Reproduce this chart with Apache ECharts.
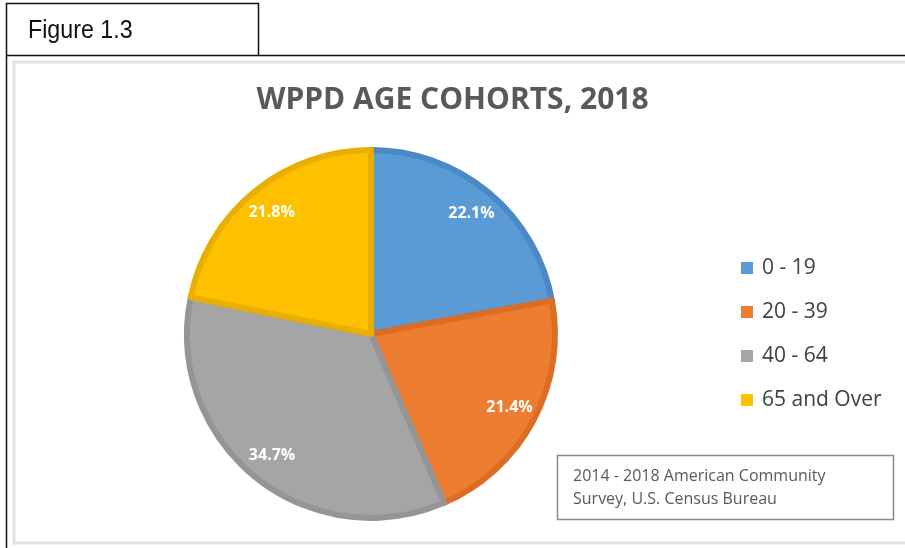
<!DOCTYPE html>
<html>
<head>
<meta charset="utf-8">
<script src="https://cdn.jsdelivr.net/npm/echarts@6/dist/echarts.min.js"></script>
<style>
html,body{margin:0;padding:0;background:#fff;}
#chart{width:905px;height:548px;}
</style>
</head>
<body>
<div id="chart"></div>
<script>
var categories = ['0 - 19', '20 - 39', '40 - 64', '65 and Over'];
var shares = [22.1, 21.4, 34.7, 21.8];
var fillColors = ['#5B9BD5', '#ED7D31', '#A5A5A5', '#FFC000'];
var edgeColors = ['#4B88C6', '#DB6E24', '#959595', '#E9AF00'];
var titleText = 'WPPD AGE COHORTS, 2018';
var figureText = 'Figure 1.3';
var sourceLines = ['2014 - 2018 American Community', 'Survey, U.S. Census Bureau'];

var chart = echarts.init(document.getElementById('chart'), null, {renderer: 'canvas'});

var pieData = categories.map(function (c, i) {
  return {
    name: c, value: shares[i],
    itemStyle: {color: fillColors[i], borderColor: edgeColors[i], borderWidth: 6}
  };
});
var labelData = categories.map(function (c, i) {
  return {name: c, value: shares[i], itemStyle: {color: 'rgba(0,0,0,0)'}};
});

var option = {
  backgroundColor: '#ffffff',
  animation: false,
  title: {
    text: titleText,
    left: 'center',
    top: 85,
    textStyle: {
      fontFamily: 'Open Sans',
      fontWeight: 'bold',
      fontSize: 30,
      color: '#595959'
    },
    padding: 0
  },
  legend: {
    orient: 'vertical',
    left: 741,
    top: 257,
    padding: 0,
    icon: 'rect',
    itemWidth: 12,
    itemHeight: 12,
    itemGap: 22,
    data: categories,
    itemStyle: {borderWidth: 0},
    textStyle: {fontFamily: 'Open Sans', fontSize: 21, color: '#404040', lineHeight: 22, padding: [0, 0, 0, 4]},
    selectedMode: false
  },
  graphic: [
    {type: 'rect', shape: {x: 14, y: 62, width: 900, height: 481}, style: {fill: 'none', stroke: '#e2e2e2', lineWidth: 3}, silent: true},
    {type: 'polyline', shape: {points: [[6.5, 548], [6.5, 3.5], [258.5, 3.5], [258.5, 55.5]]}, style: {fill: 'none', stroke: '#111', lineWidth: 1.5}, silent: true},
    {type: 'line', shape: {x1: 6, y1: 55.5, x2: 905, y2: 55.5}, style: {stroke: '#111', lineWidth: 1.5}, silent: true},
    {type: 'text', x: 28, y: 31, scaleX: 0.93, style: {text: figureText, font: '25px "Liberation Sans", Arial', fill: '#111', textVerticalAlign: 'middle'}, silent: true},
    {type: 'rect', shape: {x: 557.5, y: 455.5, width: 336, height: 64}, style: {fill: '#fff', stroke: '#8a8a8a', lineWidth: 1.5}, silent: true},
    {type: 'text', left: 573, top: 465, style: {text: sourceLines.join('\n'), font: '16px "Open Sans"', lineHeight: 23, fill: '#595959'}, silent: true}
  ],
  series: [
    {
      type: 'pie',
      center: [371, 334],
      radius: [0, 184],
      startAngle: 90,
      clockwise: true,
      data: pieData,
      label: {show: false},
      labelLine: {show: false},
      emphasis: {disabled: true},
      silent: true
    },
    {
      type: 'pie',
      center: [371, 334],
      radius: [130, 178],
      startAngle: 90,
      clockwise: true,
      data: labelData,
      label: {
        show: true,
        position: 'inside',
        formatter: function (p) { return p.value.toFixed(1) + '%'; },
        color: '#ffffff',
        fontFamily: 'Open Sans',
        fontWeight: 'bold',
        fontSize: 16
      },
      labelLine: {show: false},
      emphasis: {disabled: true},
      silent: true,
      legendHoverLink: false
    }
  ]
};
chart.setOption(option);
</script>
</body>
</html>
